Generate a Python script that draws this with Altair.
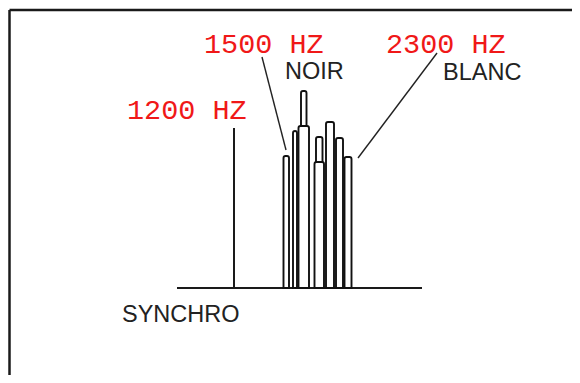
import altair as alt
import pandas as pd

# Diagram coordinates (abstract units)
bar_names = ["A", "B", "C1", "C2", "D1", "D2", "E", "F", "G"]
bar_left = [283.5, 293.0, 301.0, 298.5, 316.0, 314.5, 326.0, 336.0, 344.5]
bar_right = [289.0, 297.0, 306.5, 309.0, 322.5, 324.0, 334.0, 343.0, 351.5]
bar_top = [156, 131, 91, 126, 137, 162, 122, 138, 157]
base_level = 288

sync_x = 234
sync_top = 128
baseline_from = 177
baseline_to = 422

labels_red = ["1200 HZ", "1500 HZ", "2300 HZ"]
red_x = [127, 204, 386]
red_y = [119, 53, 53]

labels_black = ["NOIR", "BLANC", "SYNCHRO"]
black_x = [285, 443, 122]
black_y = [79, 80, 322]

leader_x1 = [262, 437]
leader_y1 = [57, 53]
leader_x2 = [286, 358]
leader_y2 = [150, 158]

frame_left = 9.5
frame_top = 10
frame_right = 600
frame_bottom = 400

W, H = 564, 367
xs = alt.Scale(domain=[8, 8 + W], nice=False, zero=False)
ys = alt.Scale(domain=[8, 8 + H], nice=False, zero=False, reverse=True)

bars = pd.DataFrame({"name": bar_names, "x": bar_left, "x2": bar_right,
                     "y": bar_top, "y2": [base_level] * len(bar_names)})
red = pd.DataFrame({"t": labels_red, "x": red_x, "y": red_y})
blk = pd.DataFrame({"t": labels_black, "x": black_x, "y": black_y})
lead = pd.DataFrame({"x": leader_x1, "y": leader_y1, "x2": leader_x2, "y2": leader_y2})
rules_v = pd.DataFrame({"x": [sync_x, frame_left], "y": [sync_top, frame_top],
                        "y2": [base_level, frame_bottom], "w": [2.0, 2.5]})
rules_h = pd.DataFrame({"y": [base_level, frame_top], "x": [baseline_from, frame_left],
                        "x2": [baseline_to, frame_right], "w": [2.0, 2.5]})

X = lambda f: alt.X(f, type="quantitative", scale=xs, axis=None)
Y = lambda f: alt.Y(f, type="quantitative", scale=ys, axis=None)

vrules = alt.Chart(rules_v).mark_rule(color="#1a1a1a").encode(
    x=X("x"), y=Y("y"), y2="y2",
    strokeWidth=alt.StrokeWidth("w:Q", scale=None, legend=None))
hrules = alt.Chart(rules_h).mark_rule(color="#1a1a1a").encode(
    x=X("x"), x2="x2", y=Y("y"),
    strokeWidth=alt.StrokeWidth("w:Q", scale=None, legend=None))
leaders = alt.Chart(lead).mark_rule(color="#222222", strokeWidth=1.4).encode(
    x=X("x"), y=Y("y"), x2="x2", y2="y2")
barmarks = alt.Chart(bars).mark_rect(fill="white", stroke="#111111", strokeWidth=1.9,
                                     cornerRadiusTopLeft=2, cornerRadiusTopRight=2).encode(
    x=X("x"), x2="x2", y=Y("y"), y2="y2", order="name:N")
redtext = alt.Chart(red).mark_text(align="left", baseline="alphabetic", font="Liberation Mono",
                                   fontSize=28.5, color="#f01818").encode(
    x=X("x"), y=Y("y"), text="t:N")
blktext = alt.Chart(blk).mark_text(align="left", baseline="alphabetic", font="Liberation Sans",
                                   fontSize=23.5, color="#222222").encode(
    x=X("x"), y=Y("y"), text="t:N")

chart = alt.layer(vrules, hrules, leaders, barmarks, redtext, blktext).properties(
    width=W, height=H, autosize=alt.AutoSizeParams(type="none"), padding=0,
    background="white"
).configure_view(stroke=None)

chart.save("out.html", embed_options={"renderer": "svg", "actions": False})
